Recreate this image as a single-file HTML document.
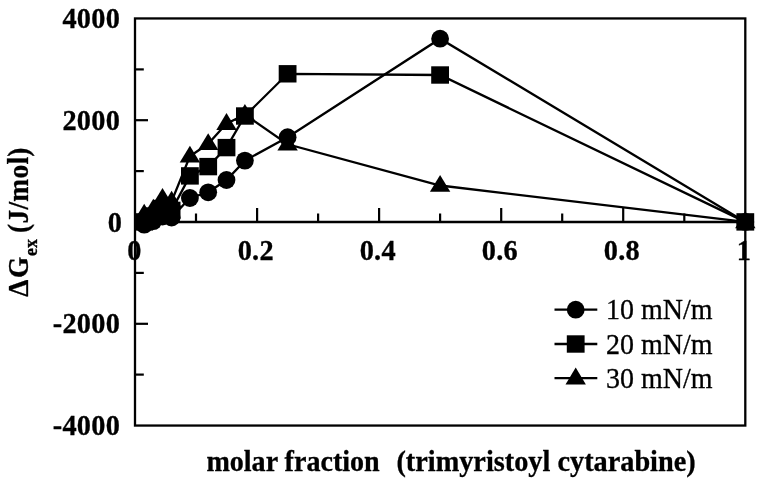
<!DOCTYPE html>
<html lang="en">
<head>
<meta charset="utf-8">
<title>Excess free energy of mixing</title>
<style>
html,body{margin:0;padding:0;background:#fff;}
body{width:763px;height:488px;overflow:hidden;}
svg{display:block;}
text{font-family:"Liberation Serif","Times New Roman",serif;fill:#000;}
.b{font-weight:bold;font-size:28.3px;stroke:#000;stroke-width:0.3px;}
.r{font-weight:normal;font-size:28px;stroke:#000;stroke-width:0.3px;}
.ln{fill:none;stroke:#000;stroke-width:2.3;stroke-linejoin:miter;}
</style>
</head>
<body>
<svg width="763" height="488" viewBox="0 0 763 488">
<rect x="0" y="0" width="763" height="488" fill="#fff"/>
<g class="ln" style="stroke-width:2.3">
<rect x="135.0" y="18.45" width="610.3" height="407.1"/>
<line x1="135.0" y1="222.0" x2="745.3" y2="222.0"/>
</g>
<g class="ln" style="stroke-width:2.2">
<line x1="196.0" y1="222.0" x2="196.0" y2="213.5"/>
<line x1="257.1" y1="222.0" x2="257.1" y2="208.0"/>
<line x1="318.1" y1="222.0" x2="318.1" y2="213.5"/>
<line x1="379.1" y1="222.0" x2="379.1" y2="208.0"/>
<line x1="440.1" y1="222.0" x2="440.1" y2="213.5"/>
<line x1="501.2" y1="222.0" x2="501.2" y2="208.0"/>
<line x1="562.2" y1="222.0" x2="562.2" y2="213.5"/>
<line x1="623.2" y1="222.0" x2="623.2" y2="208.0"/>
<line x1="684.3" y1="222.0" x2="684.3" y2="213.5"/>
<line x1="135.0" y1="374.6" x2="143.8" y2="374.6"/>
<line x1="135.0" y1="323.8" x2="148.0" y2="323.8"/>
<line x1="135.0" y1="272.9" x2="143.8" y2="272.9"/>
<line x1="135.0" y1="171.1" x2="143.8" y2="171.1"/>
<line x1="135.0" y1="120.2" x2="148.0" y2="120.2"/>
<line x1="135.0" y1="69.4" x2="143.8" y2="69.4"/>
</g>
<polyline class="ln" points="144.2,224.6 153.3,221.1 162.5,216.5 171.6,217.5 189.9,198.0 208.2,192.3 226.5,180.0 244.9,160.6 287.6,137.2 440.1,38.7 745.3,221.9"/>
<polyline class="ln" points="144.2,221.9 153.3,216.0 162.5,208.5 171.6,210.4 189.9,175.9 208.2,166.6 226.5,147.6 244.9,116.0 287.6,73.8 440.1,75.0 745.3,221.9"/>
<polyline class="ln" points="144.2,214.3 153.3,209.3 162.5,198.5 171.6,201.4 189.9,156.3 208.2,143.8 226.5,123.6 244.9,114.5 287.6,144.3 440.1,185.5 745.3,221.9"/>
<g fill="#000">
<circle cx="144.2" cy="224.6" r="8.9"/>
<circle cx="153.3" cy="221.1" r="8.9"/>
<circle cx="162.5" cy="216.5" r="8.9"/>
<circle cx="171.6" cy="217.5" r="8.9"/>
<circle cx="189.9" cy="198.0" r="8.9"/>
<circle cx="208.2" cy="192.3" r="8.9"/>
<circle cx="226.5" cy="180.0" r="8.9"/>
<circle cx="244.9" cy="160.6" r="8.9"/>
<circle cx="287.6" cy="137.2" r="8.9"/>
<circle cx="440.1" cy="38.7" r="8.9"/>
<circle cx="745.3" cy="221.9" r="8.9"/>
<rect x="135.3" y="213.2" width="17.8" height="17.4"/>
<rect x="144.4" y="207.3" width="17.8" height="17.4"/>
<rect x="153.6" y="199.8" width="17.8" height="17.4"/>
<rect x="162.7" y="201.7" width="17.8" height="17.4"/>
<rect x="181.0" y="167.2" width="17.8" height="17.4"/>
<rect x="199.3" y="157.9" width="17.8" height="17.4"/>
<rect x="217.6" y="138.9" width="17.8" height="17.4"/>
<rect x="236.0" y="107.3" width="17.8" height="17.4"/>
<rect x="278.7" y="65.1" width="17.8" height="17.4"/>
<rect x="431.2" y="66.3" width="17.8" height="17.4"/>
<rect x="736.4" y="213.2" width="17.8" height="17.4"/>
<polygon points="144.2,203.7 154.4,220.6 134.0,220.6"/>
<polygon points="153.3,198.7 163.5,215.6 143.1,215.6"/>
<polygon points="162.5,187.9 172.7,204.8 152.3,204.8"/>
<polygon points="171.6,190.8 181.8,207.7 161.4,207.7"/>
<polygon points="189.9,145.7 200.1,162.6 179.7,162.6"/>
<polygon points="208.2,133.2 218.4,150.1 198.0,150.1"/>
<polygon points="226.5,113.0 236.7,129.9 216.3,129.9"/>
<polygon points="244.9,103.9 255.1,120.8 234.7,120.8"/>
<polygon points="287.6,133.7 297.8,150.6 277.4,150.6"/>
<polygon points="440.1,174.9 450.3,191.8 429.9,191.8"/>
<polygon points="745.3,211.3 755.5,228.2 735.1,228.2"/>
</g>
<text class="b" transform="translate(120.2,27.8) scale(1.0,1.058)" text-anchor="end" style="letter-spacing:0.3px">4000</text>
<text class="b" transform="translate(120.2,129.6) scale(1.0,1.058)" text-anchor="end" style="letter-spacing:0.3px">2000</text>
<text class="b" transform="translate(122.2,231.9) scale(1.0,1.058)" text-anchor="end" style="letter-spacing:0.3px">0</text>
<text class="b" transform="translate(120.2,333.1) scale(1.0,1.058)" text-anchor="end" style="letter-spacing:0.3px">-2000</text>
<text class="b" transform="translate(120.2,434.8) scale(1.0,1.058)" text-anchor="end" style="letter-spacing:0.3px">-4000</text>
<text class="b" transform="translate(134.6,260.0) scale(1.0,1.058)" text-anchor="middle" style="letter-spacing:0.3px">0</text>
<text class="b" transform="translate(255.8,260.0) scale(1.0,1.058)" text-anchor="middle" style="letter-spacing:0.3px">0.2</text>
<text class="b" transform="translate(377.8,260.0) scale(1.0,1.058)" text-anchor="middle" style="letter-spacing:0.3px">0.4</text>
<text class="b" transform="translate(499.9,260.0) scale(1.0,1.058)" text-anchor="middle" style="letter-spacing:0.3px">0.6</text>
<text class="b" transform="translate(621.9,260.0) scale(1.0,1.058)" text-anchor="middle" style="letter-spacing:0.3px">0.8</text>
<text class="b" transform="translate(744.0,260.0) scale(1.0,1.058)" text-anchor="middle" style="letter-spacing:0.3px">1</text>
<text class="b" transform="translate(206.4,471.0) scale(1.0,1.04)" text-anchor="start" textLength="173.3" lengthAdjust="spacingAndGlyphs">molar fraction</text>
<text class="b" transform="translate(695.7,471.0) scale(1.0,1.04)" text-anchor="end">(trimyristoyl cytarabine)</text>
<text class="b" transform="translate(27.8,296.8) rotate(-90) scale(0.967,1.058)">Δ<tspan dx="1.8">G</tspan><tspan dy="8.3" dx="0.6" style="font-size:18.5px">ex</tspan><tspan dy="-8.3" dx="-0.9" style="letter-spacing:0.3px"> (J/mol)</tspan></text>
<line class="ln" x1="554.5" y1="309.7" x2="597.3" y2="309.7"/>
<circle cx="575.7" cy="309.7" r="8.9"/>
<text class="r" transform="translate(606.0,319.3) scale(1.0,1.045)" text-anchor="start">10 mN/m</text>
<line class="ln" x1="554.5" y1="344.0" x2="597.3" y2="344.0"/>
<rect x="566.8" y="335.3" width="17.8" height="17.4"/>
<text class="r" transform="translate(606.0,353.6) scale(1.0,1.045)" text-anchor="start">20 mN/m</text>
<line class="ln" x1="554.5" y1="378.2" x2="597.3" y2="378.2"/>
<polygon points="575.7,367.6 585.9,384.5 565.5,384.5"/>
<text class="r" transform="translate(606.0,387.8) scale(1.0,1.045)" text-anchor="start">30 mN/m</text>
</svg>
</body>
</html>
